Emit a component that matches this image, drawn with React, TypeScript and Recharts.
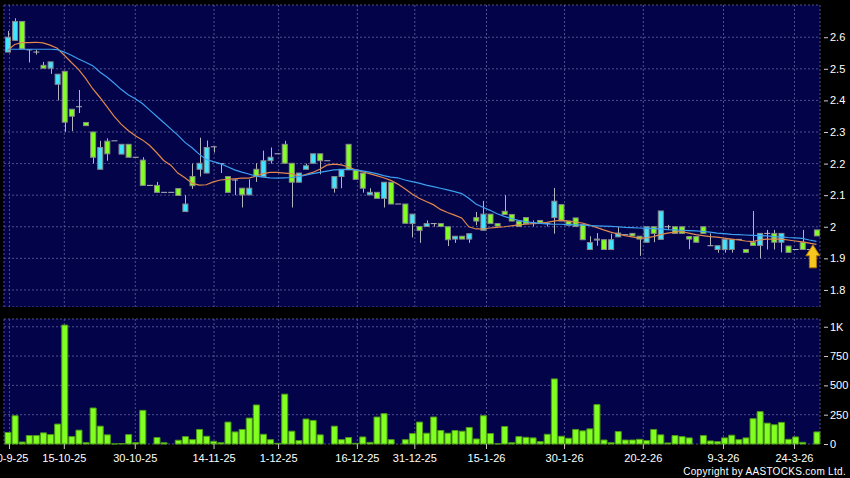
import { Bar, CartesianGrid, ComposedChart, Line, ReferenceDot, XAxis, YAxis } from "recharts";

// daily candles, oldest first
const opens = [
  2.553, 2.59, 2.65, 2.56, 2.553, 2.511, 2.502, 2.451, 2.492, 2.372,
  2.38, 2.33, 2.3, 2.182, 2.271, 2.272, 2.23, 2.261, 2.22, 2.211,
  2.131, 2.131, 2.109, 2.109, 2.121, 2.048, 2.159, 2.182, 2.17, 2.253,
  2.2, 2.159, 2.148, 2.122, 2.101, 2.182, 2.159, 2.209, 2.231, 2.261,
  2.201, 2.141, 2.182, 2.201, 2.231, 2.209, 2.122, 2.159, 2.261, 2.18,
  2.17, 2.101, 2.109, 2.09, 2.141, 2.072, 2.072, 2.01, 2.001, 2.001,
  2.01, 2.01, 2.0, 1.961, 1.97, 1.961, 2.029, 1.989, 2.04, 2.01,
  2.049, 2.039, 2.018, 2.029, 2.012, 2.02, 2.01, 2.029, 2.07, 2.018,
  2.028, 2.008, 1.928, 1.959, 1.959, 1.928, 1.968, 1.975, 1.979, 1.97,
  1.951, 2.0, 1.96, 2.0, 2.0, 2.0, 1.969, 1.969, 2.0, 1.94,
  1.928, 1.928, 1.928, 1.96, 1.928, 1.951, 1.941, 1.979, 1.979, 1.951,
  1.939, 1.928, 1.951, 1.928, 1.99,
];
const highs = [
  2.62, 2.66, 2.65, 2.562, 2.56, 2.522, 2.522, 2.483, 2.492, 2.372,
  2.433, 2.33, 2.3, 2.272, 2.28, 2.272, 2.261, 2.261, 2.22, 2.22,
  2.131, 2.142, 2.109, 2.109, 2.121, 2.1, 2.2, 2.282, 2.273, 2.253,
  2.2, 2.159, 2.15, 2.122, 2.15, 2.201, 2.241, 2.251, 2.231, 2.272,
  2.201, 2.17, 2.2, 2.231, 2.231, 2.209, 2.159, 2.182, 2.261, 2.18,
  2.17, 2.122, 2.109, 2.141, 2.141, 2.072, 2.072, 2.04, 2.001, 2.02,
  2.01, 2.01, 2.0, 1.97, 1.97, 1.978, 2.047, 2.082, 2.04, 2.01,
  2.1, 2.039, 2.018, 2.029, 2.02, 2.02, 2.01, 2.123, 2.07, 2.018,
  2.028, 2.008, 1.97, 1.98, 1.959, 1.978, 2.0, 1.975, 1.979, 1.97,
  2.0, 2.0, 2.05, 2.006, 2.0, 2.0, 1.971, 1.971, 2.0, 1.979,
  1.94, 1.96, 1.96, 1.96, 1.928, 2.05, 1.979, 1.99, 1.99, 1.979,
  1.939, 1.928, 1.99, 1.928, 1.99,
];
const lows = [
  2.553, 2.59, 2.563, 2.52, 2.545, 2.502, 2.484, 2.4, 2.3, 2.303,
  2.36, 2.32, 2.2, 2.182, 2.209, 2.272, 2.23, 2.22, 2.22, 2.131,
  2.131, 2.109, 2.109, 2.109, 2.099, 2.048, 2.12, 2.159, 2.17, 2.235,
  2.17, 2.109, 2.1, 2.061, 2.101, 2.142, 2.159, 2.2, 2.231, 2.201,
  2.061, 2.141, 2.182, 2.201, 2.166, 2.209, 2.108, 2.122, 2.18, 2.15,
  2.108, 2.101, 2.09, 2.061, 2.072, 2.072, 2.011, 1.966, 1.949, 2.001,
  2.0, 2.001, 1.939, 1.949, 1.961, 1.949, 2.005, 1.989, 2.01, 2.002,
  2.039, 2.018, 2.001, 2.01, 2.001, 2.012, 2.001, 1.978, 2.018, 2.005,
  2.001, 1.959, 1.928, 1.94, 1.928, 1.928, 1.971, 1.975, 1.971, 1.908,
  1.951, 1.951, 1.961, 1.99, 1.979, 1.979, 1.929, 1.951, 1.979, 1.94,
  1.918, 1.918, 1.918, 1.96, 1.919, 1.941, 1.9, 1.928, 1.928, 1.919,
  1.919, 1.928, 1.928, 1.928, 1.971,
];
const closes = [
  2.6, 2.65, 2.563, 2.56, 2.553, 2.502, 2.522, 2.483, 2.331, 2.35,
  2.38, 2.32, 2.22, 2.251, 2.231, 2.272, 2.261, 2.22, 2.22, 2.131,
  2.131, 2.109, 2.109, 2.109, 2.099, 2.072, 2.13, 2.201, 2.251, 2.253,
  2.2, 2.109, 2.148, 2.101, 2.122, 2.159, 2.209, 2.22, 2.231, 2.201,
  2.141, 2.17, 2.193, 2.231, 2.209, 2.209, 2.159, 2.182, 2.18, 2.15,
  2.122, 2.109, 2.09, 2.141, 2.072, 2.072, 2.011, 2.04, 1.988, 2.01,
  2.01, 2.001, 1.959, 1.97, 1.961, 1.978, 2.018, 2.04, 2.01, 2.002,
  2.039, 2.018, 2.001, 2.01, 2.012, 2.012, 2.01, 2.081, 2.018, 2.005,
  2.001, 1.959, 1.95, 1.961, 1.928, 1.959, 1.98, 1.975, 1.971, 1.961,
  2.0, 1.979, 2.05, 2.0, 1.979, 1.979, 1.961, 1.951, 1.979, 1.94,
  1.94, 1.96, 1.96, 1.96, 1.919, 1.941, 1.979, 1.979, 1.951, 1.979,
  1.919, 1.928, 1.928, 1.928, 1.971,
];
// volume in thousands of shares
const volumes = [
  98, 241, 17, 72, 72, 95, 80, 170, 1014, 63,
  118, 12, 307, 152, 78, 1, 4, 80, 12, 287,
  0, 55, 11, 0, 32, 63, 37, 124, 66, 23,
  11, 187, 103, 124, 221, 333, 83, 37, 6, 425,
  109, 29, 213, 201, 78, 0, 152, 37, 55, 6,
  60, 14, 230, 259, 37, 0, 37, 89, 187, 92,
  230, 115, 92, 115, 109, 141, 43, 241, 89, 2,
  149, 11, 63, 57, 52, 20, 83, 555, 66, 49,
  124, 112, 129, 336, 34, 11, 106, 34, 34, 40,
  29, 124, 78, 9, 72, 63, 52, 0, 72, 26,
  20, 52, 75, 37, 52, 216, 276, 178, 164, 184,
  40, 60, 14, 0, 103,
];
// moving averages as they appear on the chart
const maShort = [
  2.558, 2.577, 2.583, 2.583, 2.584, 2.582, 2.575, 2.565, 2.543, 2.52,
  2.498, 2.47, 2.437, 2.41, 2.38, 2.35, 2.325, 2.305, 2.288, 2.275,
  2.258, 2.235, 2.21, 2.195, 2.17, 2.155, 2.138, 2.132, 2.133, 2.142,
  2.148, 2.15, 2.152, 2.154, 2.154, 2.16, 2.168, 2.172, 2.172, 2.17,
  2.168, 2.16, 2.165, 2.172, 2.182, 2.195, 2.198, 2.196, 2.19, 2.18,
  2.174, 2.168, 2.162, 2.155, 2.147, 2.135, 2.12, 2.104, 2.09, 2.08,
  2.07, 2.055, 2.045, 2.037, 2.028, 2.0, 1.993, 1.993, 1.996, 1.998,
  2.0, 2.003, 2.006, 2.008, 2.01, 2.011, 2.014, 2.018, 2.021, 2.018,
  2.015, 2.012, 2.005, 1.998, 1.99, 1.983, 1.977, 1.972, 1.968, 1.964,
  1.965, 1.969, 1.975, 1.98, 1.983, 1.985, 1.98, 1.975, 1.972, 1.969,
  1.967, 1.964, 1.961, 1.958, 1.955, 1.953, 1.958, 1.961, 1.961, 1.961,
  1.958, 1.955, 1.952, 1.948, 1.944,
];
const maLong = [
  2.562, 2.562, 2.562, 2.562, 2.562, 2.562, 2.562, 2.561, 2.553, 2.543,
  2.531, 2.521, 2.51, 2.49, 2.474, 2.455, 2.435, 2.418, 2.405, 2.39,
  2.37, 2.35, 2.33, 2.31, 2.29, 2.267, 2.25, 2.23, 2.213, 2.206,
  2.2, 2.19, 2.18, 2.173, 2.167, 2.16, 2.157, 2.155, 2.154, 2.155,
  2.156, 2.159, 2.163, 2.168, 2.172, 2.176, 2.18, 2.181, 2.182, 2.18,
  2.177, 2.173, 2.168, 2.162, 2.157, 2.155, 2.148, 2.143, 2.138, 2.132,
  2.127, 2.122, 2.117, 2.111, 2.105, 2.09, 2.072, 2.062, 2.052, 2.041,
  2.033, 2.026, 2.02, 2.016, 2.013, 2.011, 2.009, 2.008, 2.008, 2.007,
  2.006, 2.005, 2.004, 2.003, 2.002, 2.001, 2.0, 1.998, 1.997, 1.996,
  1.995, 1.994, 1.993, 1.991, 1.99, 1.989, 1.988, 1.987, 1.985, 1.983,
  1.98, 1.978, 1.976, 1.975, 1.974, 1.973, 1.972, 1.971, 1.969, 1.968,
  1.966, 1.965, 1.963, 1.958, 1.954,
];

const dateTicks = [0.27, 8, 18, 29.1, 38.2, 49.3, 57.4, 67.5, 78.5, 89.6, 100.9, 110.9];
const dateLabels = ["30-9-25", "15-10-25", "30-10-25", "14-11-25", "1-12-25", "16-12-25", "31-12-25", "15-1-26", "30-1-26", "20-2-26", "9-3-26", "24-3-26"];
const priceTicks = [1.8, 1.9, 2, 2.1, 2.2, 2.3, 2.4, 2.5, 2.6];
const volumeTicks = [0, 250, 500, 750, 1000];
const arrowAt = { index: 113.5, price: 1.943 };

const rows = opens.map((open, i) => ({
  i,
  open,
  high: highs[i],
  low: lows[i],
  close: closes[i],
  volume: volumes[i],
  fast: maShort[i],
  slow: maLong[i],
}));

const NAVY = "#03034a";
const GRID = "#50508e";
const CYAN = "#40e4ff";
const LIME = "#80ff20";
const EDGE = "#8a8a8a";
const WICK = "#b4b4bc";
const FONT = "'Liberation Sans', Arial, sans-serif";
const xDomain = [-0.5, opens.length - 0.5];

const Candle = (props: any) => {
  const { x, y, width, height, payload } = props;
  const { open, close, high, low } = payload;
  const top0 = Math.min(y, y + height);
  const h = Math.abs(height);
  const span = high - low;
  const at = (v: number) => (span > 0 ? top0 + ((high - v) / span) * h : top0);
  const mid = Math.round(x + width / 2) + 0.5;
  const bodyTop = at(Math.max(open, close));
  const bodyBottom = at(Math.min(open, close));
  return (
    <g>
      {h > 0 && <line x1={mid} x2={mid} y1={top0} y2={top0 + h} stroke={WICK} strokeWidth={1} />}
      {open === close ? (
        <line x1={x} x2={x + width} y1={bodyTop} y2={bodyTop} stroke={WICK} strokeWidth={1} />
      ) : (
        <rect
          x={x + 0.5}
          y={bodyTop}
          width={width - 1}
          height={Math.max(bodyBottom - bodyTop, 1)}
          fill={close > open ? CYAN : LIME}
          stroke={EDGE}
          strokeWidth={1}
        />
      )}
    </g>
  );
};

const Arrow = ({ cx, cy }: any) => (
  <polygon
    points={`${cx},${cy} ${cx + 7},${cy + 11} ${cx + 3.5},${cy + 11} ${cx + 3.5},${cy + 23} ${cx - 3.5},${cy + 23} ${cx - 3.5},${cy + 11} ${cx - 7},${cy + 11}`}
    fill="#f6c81e"
    stroke="#b07a00"
    strokeWidth={1}
  />
);

const RightTick = ({ x, y, payload, fmt }: any) => (
  <g>
    <line x1={x + 4} x2={x + 8} y1={y + 0.5} y2={y + 0.5} stroke="#d0d0d0" />
    <text x={x + 10} y={y} dy={4} fill="#ffffff" fontSize={11} fontFamily={FONT}>
      {fmt(payload.value)}
    </text>
  </g>
);

const DateTick = ({ x, y, payload }: any) => (
  <text x={x} y={y + 13} textAnchor="middle" fill="#ffffff" fontSize={11} fontFamily={FONT}>
    {dateLabels[dateTicks.indexOf(payload.value)]}
  </text>
);

const fmtPrice = (v: number) => String(Number(v.toFixed(1)));
const fmtVolume = (v: number) => (v >= 1000 ? `${v / 1000}K` : String(v));

export default function App() {
  return (
    <div style={{ position: "absolute", left: 0, top: 0, width: 850, height: 478, background: "#000", overflow: "hidden" }}>
      <div style={{ position: "absolute", left: 0, top: 0 }}>
        <ComposedChart width={850} height={307} data={rows} margin={{ top: 5, right: 0, left: 4, bottom: 0 }}>
          <CartesianGrid fill={NAVY} stroke={GRID} strokeDasharray="2 2" />
          <XAxis dataKey="i" type="number" domain={xDomain} ticks={dateTicks} interval={0} hide />
          <YAxis
            orientation="right"
            width={30}
            domain={[1.746, 2.702]}
            ticks={priceTicks}
            interval={0}
            allowDataOverflow
            axisLine={false}
            tickLine={false}
            tickSize={0}
            tickMargin={0}
            tick={<RightTick fmt={fmtPrice} />}
          />
          <Bar dataKey={(d: any) => [d.low, d.high]} shape={<Candle />} barSize={6} minPointSize={0} isAnimationActive={false} />
          <Line dataKey="fast" type="linear" stroke="#e0884c" strokeWidth={1.2} dot={false} activeDot={false} isAnimationActive={false} />
          <Line dataKey="slow" type="linear" stroke="#3c9ff0" strokeWidth={1.2} dot={false} activeDot={false} isAnimationActive={false} />
          <ReferenceDot x={arrowAt.index} y={arrowAt.price} r={8} shape={<Arrow />} />
        </ComposedChart>
      </div>
      <div style={{ position: "absolute", left: 0, top: 307 }}>
        <ComposedChart width={850} height={171} data={rows} margin={{ top: 12, right: 0, left: 4, bottom: 0 }}>
          <CartesianGrid fill={NAVY} stroke={GRID} strokeDasharray="2 2" />
          <XAxis
            dataKey="i"
            type="number"
            domain={xDomain}
            ticks={dateTicks}
            interval={0}
            height={34}
            axisLine={false}
            tickLine={{ stroke: "#c8c8c8" }}
            tickSize={5}
            tickMargin={0}
            tick={<DateTick />}
          />
          <YAxis
            orientation="right"
            width={30}
            domain={[0, 1066]}
            ticks={volumeTicks}
            interval={0}
            axisLine={false}
            tickLine={false}
            tickSize={0}
            tickMargin={0}
            tick={<RightTick fmt={fmtVolume} />}
          />
          <Bar dataKey="volume" fill={LIME} stroke="#4f9a18" strokeWidth={1} barSize={6} isAnimationActive={false} />
        </ComposedChart>
      </div>
      <svg width={850} height={478} style={{ position: "absolute", left: 0, top: 0, pointerEvents: "none" }}>
        <text x={846} y={475} textAnchor="end" fill="#ffffff" fontSize={10} letterSpacing={0.3} fontFamily={FONT}>
          Copyright by AASTOCKS.com Ltd.
        </text>
      </svg>
    </div>
  );
}
